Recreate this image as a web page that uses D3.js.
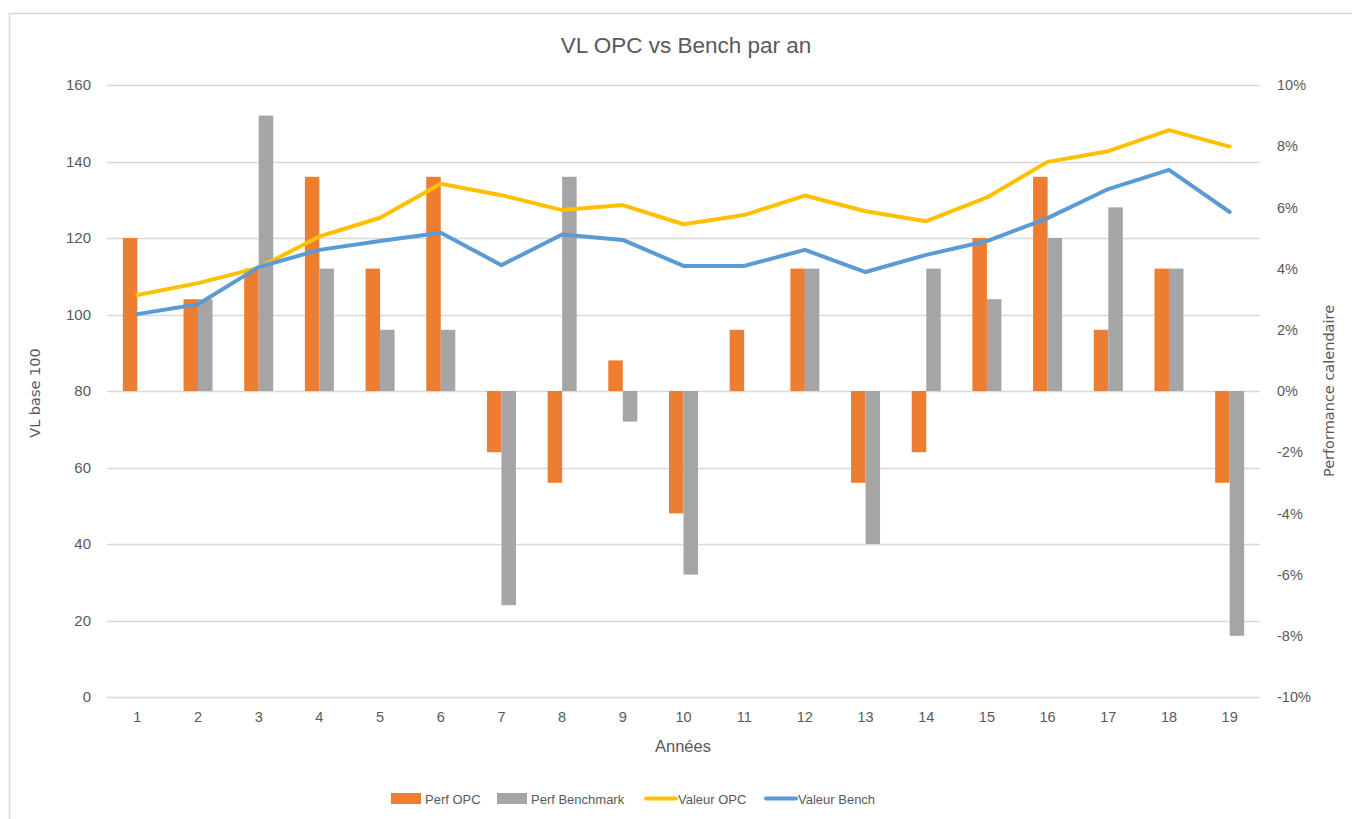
<!DOCTYPE html>
<html>
<head>
<meta charset="utf-8">
<script src="https://cdn.jsdelivr.net/npm/d3@7"></script>
<style>
  body { margin: 0; background: #fff; }
  svg { display: block; font-family: "Liberation Sans", "DejaVu Sans", sans-serif; }
</style>
</head>
<body>
<div id="chart"></div>
<script>
// years 1..19
var years = ["1","2","3","4","5","6","7","8","9","10","11","12","13","14","15","16","17","18","19"];

// calendar performance (%), right axis
var perfOPC   = [5, 3, 4, 7, 4, 7, -2, -3, 1, -4, 2, 4, -3, -2, 5, 7, 2, 4, -3];
var perfBench = [0, 3, 9, 4, 2, 2, -7, 7, -1, -6, 0, 4, -5, 4, 3, 5, 6, 4, -8];

// NAV base 100, left axis
var valeurOPC   = [105.1, 108.2, 112.2, 120.4, 125.3, 134.2, 131.2, 127.3, 128.6, 123.6, 126.0, 131.1, 127.0, 124.4, 130.6, 139.9, 142.7, 148.2, 143.9];
var valeurBench = [100.1, 102.7, 112.4, 116.9, 119.2, 121.4, 112.9, 120.9, 119.5, 112.7, 112.7, 116.9, 111.1, 115.6, 119.2, 125.2, 132.8, 137.8, 126.8];

var leftTicks  = [0, 20, 40, 60, 80, 100, 120, 140, 160];
var rightTicks = [-10, -8, -6, -4, -2, 0, 2, 4, 6, 8, 10];

var svgWidth = 1352, svgHeight = 819;
var margin = { top: 85, bottom: 122, left: 107, right: 92 };
var width = svgWidth - margin.left - margin.right;
var height = svgHeight - margin.top - margin.bottom;

var svg = d3.select("#chart")
    .append("svg")
    .attr("width", svgWidth)
    .attr("height", svgHeight);

// chart frame (only top/left visible in the crop)
svg.append("path")
    .attr("d", "M9.5,819 V13.5 H1352")
    .attr("fill", "none")
    .attr("stroke", "#d9d9d9")
    .attr("stroke-width", 1.5);

var chartGroup = svg.append("g")
    .attr("transform", `translate(${margin.left}, ${margin.top})`);

// scales
var xScale = d3.scaleBand().domain(years).range([0, width]);
var yLeft = d3.scaleLinear().domain([0, 160]).range([height, 0]);
var yRight = d3.scaleLinear().domain([-10, 10]).range([height, 0]);

// gridlines
chartGroup.append("g")
    .selectAll("line")
    .data(leftTicks)
    .enter()
    .append("line")
    .attr("x1", 0)
    .attr("x2", width)
    .attr("y1", d => Math.round(yLeft(d)) + 0.5)
    .attr("y2", d => Math.round(yLeft(d)) + 0.5)
    .attr("stroke", "#d9d9d9")
    .attr("stroke-width", 1.3);

// axes
var textColor = "#595959";

var leftAxis = chartGroup.append("g")
    .call(d3.axisLeft(yLeft).tickValues(leftTicks).tickSize(0).tickPadding(16));
leftAxis.select(".domain").remove();
leftAxis.selectAll("text").attr("fill", textColor).attr("font-size", "15px");

var rightAxis = chartGroup.append("g")
    .attr("transform", `translate(${width}, 0)`)
    .call(d3.axisRight(yRight).tickValues(rightTicks).tickSize(0).tickPadding(17)
        .tickFormat(d => d + "%"));
rightAxis.select(".domain").remove();
rightAxis.selectAll("text").attr("fill", textColor).attr("font-size", "14.5px");

var bottomAxis = chartGroup.append("g")
    .attr("transform", `translate(0, ${height})`)
    .call(d3.axisBottom(xScale).tickSize(0).tickPadding(15));
bottomAxis.select(".domain").remove();
bottomAxis.selectAll("text").attr("fill", textColor).attr("font-size", "14.5px");

// bars
var barW = 14.5;
var barData = years.map((y, i) => ({ year: y, opc: perfOPC[i], bench: perfBench[i] }));
var center = d => xScale(d.year) + xScale.bandwidth() / 2;

chartGroup.append("g")
    .selectAll("rect")
    .data(barData)
    .enter()
    .append("rect")
    .attr("x", d => center(d) - barW)
    .attr("y", d => yRight(Math.max(0, d.opc)))
    .attr("width", barW)
    .attr("height", d => Math.abs(yRight(d.opc) - yRight(0)))
    .attr("fill", "#ed7d31");

chartGroup.append("g")
    .selectAll("rect")
    .data(barData)
    .enter()
    .append("rect")
    .attr("x", d => center(d))
    .attr("y", d => yRight(Math.max(0, d.bench)))
    .attr("width", barW)
    .attr("height", d => Math.abs(yRight(d.bench) - yRight(0)))
    .attr("fill", "#a5a5a5");

// lines
var line = d3.line()
    .x(d => xScale(d.year) + xScale.bandwidth() / 2)
    .y(d => yLeft(d.v));

chartGroup.append("path")
    .datum(years.map((y, i) => ({ year: y, v: valeurOPC[i] })))
    .attr("d", line)
    .attr("fill", "none")
    .attr("stroke", "#ffc000")
    .attr("stroke-width", 4)
    .attr("stroke-linejoin", "round")
    .attr("stroke-linecap", "round");

chartGroup.append("path")
    .datum(years.map((y, i) => ({ year: y, v: valeurBench[i] })))
    .attr("d", line)
    .attr("fill", "none")
    .attr("stroke", "#5b9bd5")
    .attr("stroke-width", 4)
    .attr("stroke-linejoin", "round")
    .attr("stroke-linecap", "round");

// title
svg.append("text")
    .attr("x", 686)
    .attr("y", 53)
    .attr("text-anchor", "middle")
    .attr("font-size", "22.5px")
    .attr("fill", textColor)
    .text("VL OPC vs Bench par an");

// axis titles
svg.append("text")
    .attr("x", 683)
    .attr("y", 752)
    .attr("text-anchor", "middle")
    .attr("font-size", "16.5px")
    .attr("fill", textColor)
    .text("Années");

svg.append("text")
    .attr("transform", "translate(40, 393) rotate(-90)")
    .attr("text-anchor", "middle")
    .attr("font-family", "DejaVu Sans, sans-serif")
    .attr("font-size", "14.5px")
    .attr("fill", textColor)
    .text("VL base 100");

svg.append("text")
    .attr("transform", "translate(1334, 391) rotate(-90)")
    .attr("text-anchor", "middle")
    .attr("font-family", "DejaVu Sans, sans-serif")
    .attr("font-size", "14.5px")
    .attr("fill", textColor)
    .text("Performance calendaire");

// legend
var legendItems = [
    { label: "Perf OPC", color: "#ed7d31", type: "bar", x: 391 },
    { label: "Perf Benchmark", color: "#a5a5a5", type: "bar", x: 497 },
    { label: "Valeur OPC", color: "#ffc000", type: "line", x: 644 },
    { label: "Valeur Bench", color: "#5b9bd5", type: "line", x: 764 }
];

var legend = svg.append("g");
legendItems.forEach(item => {
    if (item.type === "bar") {
        legend.append("rect")
            .attr("x", item.x)
            .attr("y", 793)
            .attr("width", 30)
            .attr("height", 11)
            .attr("fill", item.color);
    } else {
        legend.append("line")
            .attr("x1", item.x + 2)
            .attr("x2", item.x + 32)
            .attr("y1", 798.5)
            .attr("y2", 798.5)
            .attr("stroke", item.color)
            .attr("stroke-width", 4)
            .attr("stroke-linecap", "round");
    }
    legend.append("text")
        .attr("x", item.x + 34)
        .attr("y", 804)
        .attr("font-size", "13px")
        .attr("fill", textColor)
        .text(item.label);
});
</script>
</body>
</html>
